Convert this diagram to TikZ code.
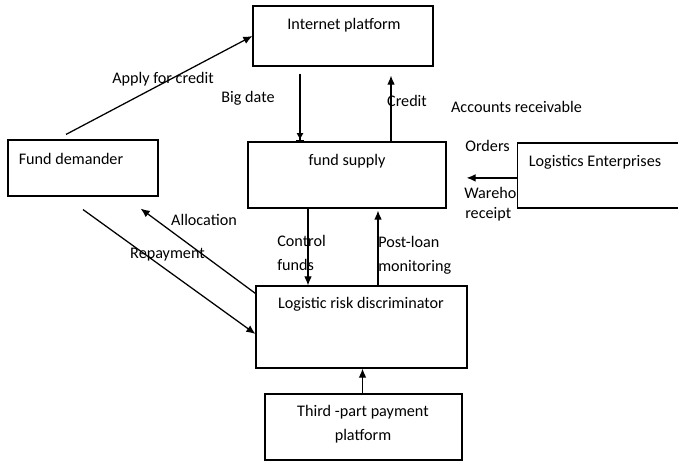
\documentclass[tikz,border=0pt]{standalone}
\usepackage{fontspec}
\setmainfont{Carlito}
\usepackage{tikz}
\usetikzlibrary{arrows.meta}

\tikzset{
  box/.style = {draw, fill=white, line width=0.8pt, inner sep=0pt},
  lbl/.style = {font=\fontsize{11.5}{17}\selectfont, inner sep=0pt},
  flow/.style = {line width=0.9pt, -{Latex[length=6.5pt,width=5.5pt]}},
}

\begin{document}
\begin{tikzpicture}[thin]
    \useasboundingbox (0,0) rectangle (16.95,-11.575);
    % edge labels behind the boxes
    \node (warehouse) [lbl, anchor=west] at (11.6,-4.825) {Warehouse};
    \node (receipt) [lbl, anchor=west] at (11.625,-5.35) {receipt};
    % boxes
    \node (ip) [box, minimum width=4.5cm, minimum height=1.5cm] at (8.575,-0.9) {};
    \node (fs) [box, minimum width=4.95cm, minimum height=1.65cm] at (8.675,-4.375) {};
    \node (fd) [box, minimum width=3.75cm, minimum height=1.4cm] at (2.075,-4.2) {};
    \node (le) [box, minimum width=4.75cm, minimum height=1.625cm, anchor=west] at (12.925,-4.3875) {};
    \node (lr) [box, minimum width=5.275cm, minimum height=2.05cm] at (9.0375,-8.175) {};
    \node (tp) [box, minimum width=4.925cm, minimum height=1.65cm] at (9.0875,-10.675) {};
    % box texts
    \node (iptxt) [lbl] at (8.6,-0.625) {Internet platform};
    \node (fstxt) [lbl] at (8.675,-4.025) {fund supply};
    \node (fdtxt) [lbl] at (1.775,-3.975) {Fund demander};
    \node (letxt) [lbl] at (14.875,-4.05) {Logistics Enterprises};
    \node (lrtxt) [lbl] at (9.025,-7.6) {Logistic risk discriminator};
    \node (tptxt) [lbl, align=center] at (9.075,-10.6) {Third -part payment\\platform};
    % connectors
    \draw [flow] ([xshift=-0.425cm, yshift=0.125cm]fd.north) -- (ip.west);
    \draw [line width=0.9pt, -{Latex[length=5pt,width=5pt]Bar[width=6pt]}, shorten <=0.175cm]
      ([xshift=-1.075cm]ip.south) -- ([xshift=-1.075cm]ip.south |- fs.north);
    \draw [flow, shorten >=0.225cm] ([xshift=1.1cm]fs.north) -- ([xshift=1.1cm]fs.north |- ip.south);
    \draw [flow, shorten >=0.5cm] ([yshift=-0.06cm]le.west) -- ([yshift=-0.06cm]le.west -| fs.east);
    \draw [flow] ([xshift=-0.975cm]fs.south) -- ([xshift=-0.975cm]fs.south |- lr.north);
    \draw [flow, shorten >=0.05cm] ([xshift=0.4125cm]lr.north) -- ([xshift=0.4125cm]lr.north |- fs.south);
    \draw [flow] ([yshift=-0.2cm]lr.north west) -- ([xshift=-0.45cm, yshift=-0.3cm]fd.south east);
    \draw [flow] ([yshift=-0.325cm]fd.south) -- ([yshift=-0.175cm]lr.west);
    \draw [flow] ([xshift=-0.025cm]tp.north) -- ([xshift=-0.025cm]tp.north |- lr.south);
    % edge labels
    \node (apply) [lbl] at (4.075,-1.975) {Apply for credit};
    \node (bigdate) [lbl] at (6.2,-2.45) {Big date};
    \node (credit) [lbl] at (10.175,-2.525) {Credit};
    \node (accounts) [lbl] at (12.9125,-2.675) {Accounts receivable};
    \node (orders) [lbl] at (12.1875,-3.65) {Orders};
    \node (alloc) [lbl] at (5.1,-5.5) {Allocation};
    \node (repay) [lbl] at (4.1875,-6.375) {Repayment};
    \node (control) [lbl, anchor=west, align=left] at (6.925,-6.325) {Control\\funds};
    \node (postloan) [lbl, anchor=west, align=left] at (9.45,-6.375) {Post-loan\\monitoring};
\end{tikzpicture}
\end{document}
